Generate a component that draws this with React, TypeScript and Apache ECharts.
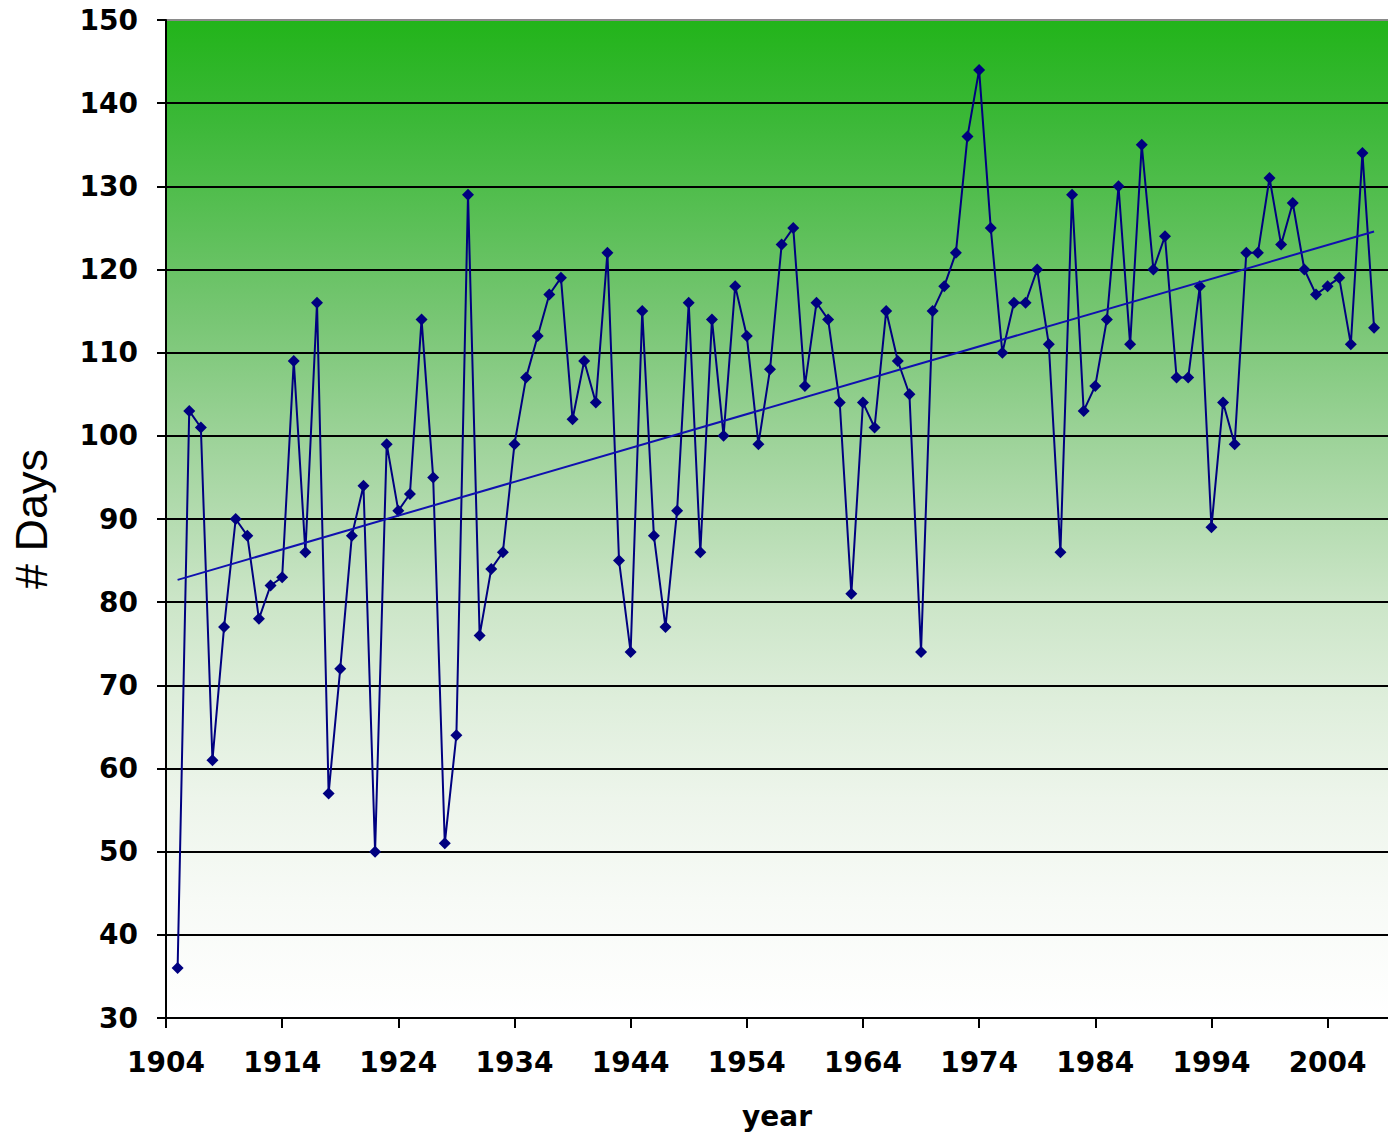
import React, { useEffect, useRef } from "react";
import * as echarts from "echarts";

const years: number[] = [];
for (let y = 1905; y <= 2008; y++) years.push(y);

const days: number[] = [
  36, 103, 101, 61, 77, 90, 88, 78, 82, 83,
  109, 86, 116, 57, 72, 88, 94, 50, 99, 91,
  93, 114, 95, 51, 64, 129, 76, 84, 86, 99,
  107, 112, 117, 119, 102, 109, 104, 122, 85, 74,
  115, 88, 77, 91, 116, 86, 114, 100, 118, 112,
  99, 108, 123, 125, 106, 116, 114, 104, 81, 104,
  101, 115, 109, 105, 74, 115, 118, 122, 136, 144,
  125, 110, 116, 116, 120, 111, 86, 129, 103, 106,
  114, 130, 111, 135, 120, 124, 107, 107, 118, 89,
  104, 99, 122, 122, 131, 123, 128, 120, 117, 118,
  119, 111, 134, 113,
];

const yTicks = { min: 30, max: 150, step: 10 };
const xTicks = { min: 1904, max: 2009.2, step: 10 };

function linearFit(xs: number[], ys: number[]) {
  const n = xs.length;
  let sx = 0, sy = 0, sxx = 0, sxy = 0;
  for (let i = 0; i < n; i++) {
    sx += xs[i]; sy += ys[i]; sxx += xs[i] * xs[i]; sxy += xs[i] * ys[i];
  }
  const b = (n * sxy - sx * sy) / (n * sxx - sx * sx);
  const a = (sy - b * sx) / n;
  return { a, b };
}

export default function App() {
  const ref = useRef<HTMLDivElement>(null);
  useEffect(() => {
    if (!ref.current) return;
    const chart = echarts.init(ref.current, null, { renderer: "svg" });
    const pts = years.map((y, i) => [y, days[i]]);
    const { a, b } = linearFit(years, days);
    const x0 = years[0];
    const x1 = years[years.length - 1];
    const trend = [[x0, a + b * x0], [x1, a + b * x1]];
    const nLines = (yTicks.max - yTicks.min) / yTicks.step + 1;
    const splitColors: string[] = [];
    for (let i = 0; i < nLines; i++) splitColors.push(i === nLines - 1 ? "#8a8a8a" : "#000000");
    const labelFont = { fontFamily: "DejaVu Sans", fontWeight: "bold" as const, fontSize: 28, color: "#000" };
    chart.setOption({
      animation: false,
      grid: {
        left: 166,
        right: 0,
        top: 20,
        bottom: 118,
        show: true,
        borderWidth: 0,
        backgroundColor: new echarts.graphic.LinearGradient(0, 0, 0, 1, [
          { offset: 0, color: "#22b41a" },
          { offset: 0.1, color: "#3bb837" },
          { offset: 0.3, color: "#78c674" },
          { offset: 0.45, color: "#a6d6a2" },
          { offset: 0.58, color: "#cbe5c7" },
          { offset: 0.68, color: "#deeedb" },
          { offset: 0.78, color: "#edf5eb" },
          { offset: 0.88, color: "#f7faf6" },
          { offset: 1, color: "#ffffff" },
        ]),
      },
      xAxis: {
        type: "value",
        min: xTicks.min,
        max: xTicks.max,
        interval: xTicks.step,
        name: "year",
        nameLocation: "middle",
        nameGap: 84,
        nameTextStyle: { ...labelFont },
        axisLine: { show: true, onZero: false, lineStyle: { color: "#000", width: 2 } },
        axisTick: { show: true, length: 10, lineStyle: { color: "#000", width: 2 } },
        axisLabel: {
          ...labelFont,
          margin: 30,
          showMaxLabel: false,
          formatter: (v: number) => (Number.isInteger(v) && (v - xTicks.min) % xTicks.step === 0 ? String(v) : ""),
        },
        splitLine: { show: false },
      },
      yAxis: {
        type: "value",
        min: yTicks.min,
        max: yTicks.max,
        interval: yTicks.step,
        name: "# Days",
        nameLocation: "middle",
        nameRotate: 90,
        nameGap: 112,
        nameTextStyle: { fontFamily: "Liberation Sans", fontSize: 45, color: "#000" },
        axisLine: { show: true, lineStyle: { color: "#000", width: 2 } },
        axisTick: { show: true, length: 9, lineStyle: { color: "#000", width: 2 } },
        axisLabel: { ...labelFont, margin: 28 },
        splitLine: { show: true, lineStyle: { color: splitColors, width: 2 } },
      },
      series: [
        {
          type: "line",
          data: pts,
          symbol: "diamond",
          symbolSize: 12,
          lineStyle: { color: "#000080", width: 2 },
          itemStyle: { color: "#000080" },
          z: 3,
        },
        {
          type: "line",
          data: trend,
          symbol: "none",
          lineStyle: { color: "#1010b0", width: 2 },
          z: 4,
        },
      ],
    });
    return () => chart.dispose();
  }, []);
  return (
    <div
      ref={ref}
      style={{ position: "absolute", left: 0, top: 0, width: 1388, height: 1136, background: "#fff" }}
    />
  );
}
